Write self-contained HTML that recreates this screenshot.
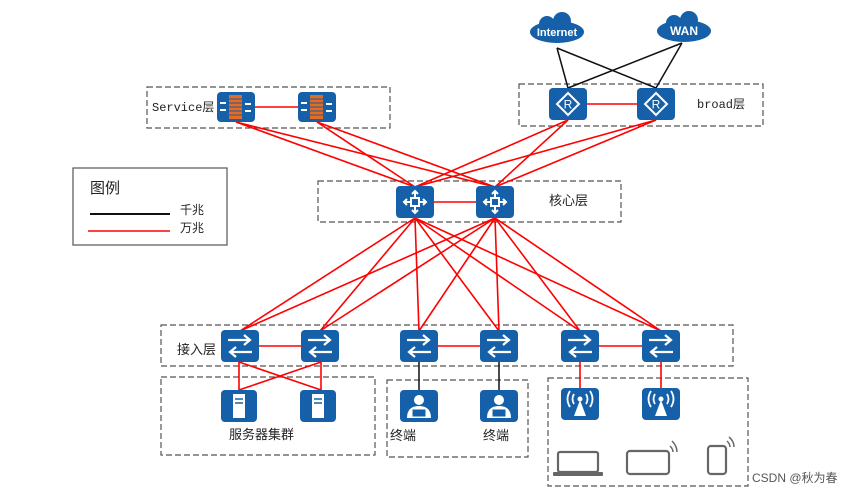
<!DOCTYPE html>
<html><head><meta charset="utf-8"><style>
html,body{margin:0;padding:0;background:#fff;}
svg{display:block;}
text{font-family:"Liberation Sans","Noto Sans CJK SC",sans-serif;fill:#222;}
</style></head><body>
<svg width="865" height="495" viewBox="0 0 865 495" xmlns="http://www.w3.org/2000/svg">
<defs>
<g id="sw"><rect x="-19" y="-16" width="38" height="32" rx="4" fill="#1560a8"/>
<path d="M-12 -6 H10 M4 -11 L10 -6 L4 -1 M12 6 H-10 M-4 1 L-10 6 L-4 11" stroke="#fff" stroke-width="2.2" fill="none"/>
<path d="M-12 -2 H10 M12 2 H-10" stroke="#fff" stroke-width="1" fill="none" opacity="0"/></g>
<g id="core"><rect x="-19" y="-16" width="38" height="32" rx="4" fill="#1560a8"/>
<path d="M0 -11 V11 M-11 0 H11 M-3 -8 L0 -11 L3 -8 M-3 8 L0 11 L3 8 M-8 -3 L-11 0 L-8 3 M8 -3 L11 0 L8 3" stroke="#fff" stroke-width="2" fill="none"/>
<rect x="-4" y="-4" width="8" height="8" fill="#1560a8" stroke="#fff" stroke-width="2"/></g>
<g id="fw"><rect x="-19" y="-15" width="38" height="30" rx="4" fill="#1560a8"/>
<rect x="-7" y="-12" width="13" height="24" fill="#e86a1e"/>
<path d="M-7 -8 H6 M-7 -4 H6 M-7 0 H6 M-7 4 H6 M-7 8 H6" stroke="#1560a8" stroke-width="1"/>
<path d="M-16 -4 H-10 M-16 3 H-10 M9 -3 H15 M9 4 H15" stroke="#fff" stroke-width="2"/></g>
<g id="rt"><rect x="-19" y="-16" width="38" height="32" rx="4" fill="#1560a8"/>
<path d="M0 -11 L11 0 L0 11 L-11 0 Z" fill="none" stroke="#fff" stroke-width="2"/>
<text x="0" y="4.5" font-size="12" text-anchor="middle" style="fill:#fff">R</text></g>
<g id="srv"><rect x="-18" y="-16" width="36" height="32" rx="4" fill="#1560a8"/>
<rect x="-6" y="-12" width="12" height="24" fill="#fff"/><path d="M-4 -7 H4 M-4 -3 H4" stroke="#1560a8" stroke-width="1.5"/></g>
<g id="term"><rect x="-19" y="-16" width="38" height="32" rx="4" fill="#1560a8"/>
<circle cx="0" cy="-6" r="5" fill="#fff"/><path d="M-12 12 Q-12 0 0 0 Q12 0 12 12 Z" fill="#fff"/>
<rect x="-7" y="3" width="14" height="8" fill="#1560a8" stroke="#fff"/></g>
<g id="ap"><rect x="-19" y="-16" width="38" height="32" rx="4" fill="#1560a8"/>
<path d="M0 -4 L-6 12 H6 Z" fill="#fff"/><circle cx="0" cy="-5" r="2.5" fill="#fff"/>
<path d="M-6 -10 Q-9 -5 -6 0 M6 -10 Q9 -5 6 0 M-10 -13 Q-15 -5 -10 3 M10 -13 Q15 -5 10 3" stroke="#fff" stroke-width="1.8" fill="none"/></g>
</defs>
<g fill="none" stroke="#555" stroke-width="1.2" stroke-dasharray="6,3">
<rect x="147" y="87" width="243" height="41"/>
<rect x="519" y="84" width="244" height="42"/>
<rect x="318" y="181" width="303" height="41"/>
<rect x="161" y="325" width="572" height="41"/>
<rect x="161" y="377" width="214" height="78"/>
<rect x="387" y="380" width="141" height="77"/>
<rect x="548" y="378" width="200" height="108"/>
</g>
<rect x="73" y="168" width="154" height="77" fill="none" stroke="#555" stroke-width="1.2"/>
<line x1="90" y1="214" x2="170" y2="214" stroke="#111" stroke-width="2"/>
<line x1="88" y1="231" x2="170" y2="231" stroke="#f00" stroke-width="1.5"/>
<text x="90" y="193" font-size="15">图例</text>
<text x="180" y="214" font-size="12">千兆</text>
<text x="180" y="232" font-size="12">万兆</text>
<g stroke="#111" stroke-width="1.5">
<line x1="557" y1="48" x2="568" y2="88"/><line x1="557" y1="48" x2="656" y2="88"/>
<line x1="682" y1="43" x2="568" y2="88"/><line x1="682" y1="43" x2="656" y2="88"/>
<line x1="419" y1="360" x2="419" y2="392"/><line x1="499" y1="360" x2="499" y2="392"/>
</g>
<g stroke="#f00" stroke-width="1.6">
<line x1="236" y1="122" x2="415" y2="187"/><line x1="236" y1="122" x2="495" y2="187"/>
<line x1="317" y1="122" x2="415" y2="187"/><line x1="317" y1="122" x2="495" y2="187"/>
<line x1="568" y1="120" x2="415" y2="187"/><line x1="568" y1="120" x2="495" y2="187"/>
<line x1="656" y1="120" x2="415" y2="187"/><line x1="656" y1="120" x2="495" y2="187"/>
<line x1="236" y1="107" x2="317" y2="107"/><line x1="568" y1="104" x2="656" y2="104"/>
<line x1="415" y1="202" x2="495" y2="202"/>
<line x1="415" y1="218" x2="240" y2="331"/><line x1="415" y1="218" x2="320" y2="331"/><line x1="415" y1="218" x2="419" y2="331"/><line x1="415" y1="218" x2="499" y2="331"/><line x1="415" y1="218" x2="580" y2="331"/><line x1="415" y1="218" x2="661" y2="331"/>
<line x1="495" y1="218" x2="240" y2="331"/><line x1="495" y1="218" x2="320" y2="331"/><line x1="495" y1="218" x2="419" y2="331"/><line x1="495" y1="218" x2="499" y2="331"/><line x1="495" y1="218" x2="580" y2="331"/><line x1="495" y1="218" x2="661" y2="331"/>
<line x1="240" y1="346" x2="320" y2="346"/><line x1="419" y1="346" x2="499" y2="346"/><line x1="580" y1="346" x2="661" y2="346"/>
<line x1="239" y1="360" x2="239" y2="390"/><line x1="321" y1="360" x2="321" y2="390"/>
<line x1="239" y1="362" x2="321" y2="390"/><line x1="321" y1="362" x2="239" y2="390"/>
<line x1="239" y1="390" x2="239" y2="390"/>
<line x1="580" y1="360" x2="580" y2="390"/><line x1="661" y1="360" x2="661" y2="390"/>
</g>
<g fill="#1560a8">
<ellipse cx="557" cy="32" rx="27" ry="11"/><circle cx="547" cy="24" r="8"/><circle cx="562" cy="21" r="9"/>
<ellipse cx="684" cy="31" rx="27" ry="11"/><circle cx="674" cy="23" r="8"/><circle cx="689" cy="20" r="9"/>
</g>
<text x="557" y="36" font-size="11" font-weight="bold" text-anchor="middle" style="fill:#fff">Internet</text>
<text x="684" y="35" font-size="12" font-weight="bold" text-anchor="middle" style="fill:#fff">WAN</text>
<use href="#fw" x="236" y="107"/><use href="#fw" x="317" y="107"/>
<use href="#rt" x="568" y="104"/><use href="#rt" x="656" y="104"/>
<use href="#core" x="415" y="202"/><use href="#core" x="495" y="202"/>
<use href="#sw" x="240" y="346"/><use href="#sw" x="320" y="346"/><use href="#sw" x="419" y="346"/><use href="#sw" x="499" y="346"/><use href="#sw" x="580" y="346"/><use href="#sw" x="661" y="346"/>
<use href="#srv" x="239" y="406"/><use href="#srv" x="318" y="406"/>
<use href="#term" x="419" y="406"/><use href="#term" x="499" y="406"/>
<use href="#ap" x="580" y="404"/><use href="#ap" x="661" y="404"/>
<g fill="none" stroke="#666" stroke-width="2.2">
<rect x="558" y="452" width="40" height="20" rx="2"/>
<rect x="627" y="451" width="42" height="23" rx="3"/>
<rect x="708" y="446" width="18" height="28" rx="3"/>
<path d="M670 446 Q673 449 673 452 M672 441 Q677 446 677 452" stroke-width="1.5"/>
<path d="M727 441 Q730 444 730 447 M729 437 Q734 441 734 447" stroke-width="1.5"/>
</g>
<rect x="553" y="472" width="50" height="4" rx="1" fill="#666"/>
<text x="152" y="111" font-size="12" style="font-family:'Liberation Mono','Noto Sans CJK SC',monospace">Service层</text>
<text x="697" y="108" font-size="12" style="font-family:'Liberation Mono','Noto Sans CJK SC',monospace">broad层</text>
<text x="549" y="205" font-size="13">核心层</text>
<text x="177" y="354" font-size="13">接入层</text>
<text x="229" y="439" font-size="13">服务器集群</text>
<text x="390" y="440" font-size="13">终端</text>
<text x="483" y="440" font-size="13">终端</text>
<text x="752" y="482" font-size="12" style="fill:#555">CSDN @秋为春</text>
</svg>
</body></html>
